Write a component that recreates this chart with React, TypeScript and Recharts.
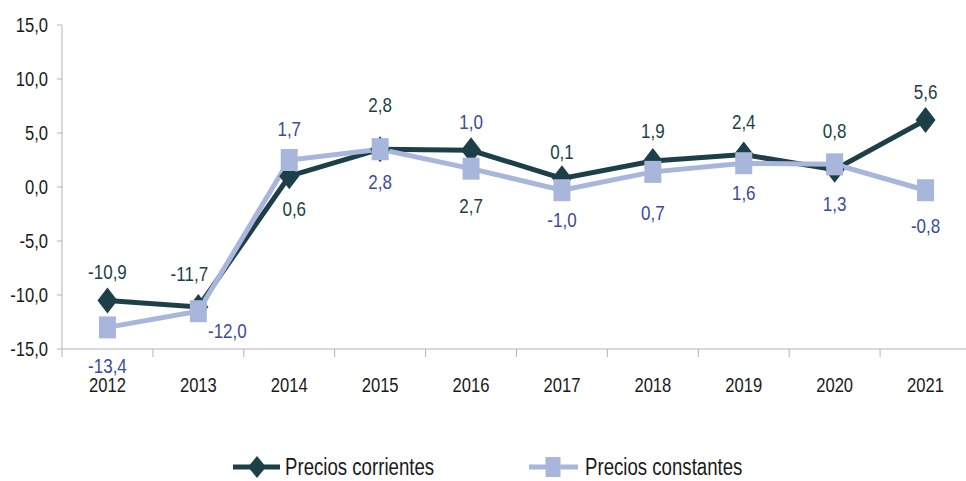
import React from "react";
import { ComposedChart, Line, XAxis, YAxis, Legend, LabelList } from "recharts";

const years = ["2012", "2013", "2014", "2015", "2016", "2017", "2018", "2019", "2020", "2021"];
const corrientes = [-10.5, -11.1, 1.0, 3.5, 3.4, 0.8, 2.4, 3.0, 1.6, 6.2];
const constantes = [-13.0, -11.5, 2.5, 3.5, 1.7, -0.3, 1.4, 2.2, 2.1, -0.3];
const corrientesLabels = ["-10,9", "-11,7", "0,6", "2,8", "2,7", "0,1", "1,9", "2,4", "0,8", "5,6"];
const constantesLabels = ["-13,4", "-12,0", "1,7", "2,8", "1,0", "-1,0", "0,7", "1,6", "1,3", "-0,8"];
const yTicks = [-15, -10, -5, 0, 5, 10, 15];

// label placement next to each point (dx, dy)
const corrPlace = [[0, -29], [-9, -33], [5, 33], [0, -44], [0, 56], [0, -27], [0, -30], [0, -33], [0, -39], [0, -28]];
const constPlace = [[0, 38], [29, 20], [0, -31], [0, 33], [0, -47], [0, 30], [0, 41], [0, 30], [0, 40], [0, 36]];

const data = years.map((year, i) => ({ year, corrientes: corrientes[i], constantes: constantes[i] }));

const DARK = "#1d3f48";
const LIGHT = "#a9b6dc";
const BLUE_TEXT = "#3b4d96";
const AXIS = "#b5b5b5";
const INK = "#1a1a1a";
const FONT = "'Liberation Sans', Arial, sans-serif";

const W = 971;
const H = 481;
const Y_W = 62;
const BAND = (W - Y_W) / years.length;

const fmt = (v: number) => v.toFixed(1).replace(".", ",");

// reference font is a narrow sans, so squeeze Liberation Sans horizontally
const NarrowText = ({ x, y, anchor = "middle", color = INK, size = 21, sx = 0.79, children }: any) => (
  <text
    transform={`translate(${x},${y}) scale(${sx},1)`}
    x={0}
    y={0}
    textAnchor={anchor}
    dominantBaseline="central"
    fill={color}
    fontSize={size}
    fontFamily={FONT}
  >
    {children}
  </text>
);

const Diamond = ({ cx, cy, w = 20, h = 26 }: any) => (
  <polygon
    points={`${cx},${cy - h / 2} ${cx + w / 2},${cy} ${cx},${cy + h / 2} ${cx - w / 2},${cy}`}
    fill={DARK}
  />
);

const Square = ({ cx, cy, w = 17, h = 22 }: any) => (
  <rect x={cx - w / 2} y={cy - h / 2} width={w} height={h} fill={LIGHT} />
);

const XTick = ({ x, y, payload, index }: any) => (
  <g>
    <line x1={x - BAND / 2} x2={x - BAND / 2} y1={y} y2={y + 8} stroke={AXIS} />
    {index === years.length - 1 && (
      <line x1={x + BAND / 2} x2={x + BAND / 2} y1={y} y2={y + 8} stroke={AXIS} />
    )}
    <NarrowText x={x} y={y + 36}>{payload.value}</NarrowText>
  </g>
);

const YTick = ({ x, y, payload }: any) => (
  <NarrowText x={x} y={y} anchor="end">{fmt(payload.value)}</NarrowText>
);

const makeLabel = (texts: string[], place: number[][], color: string) => (props: any) => {
  const { x, y, index } = props;
  const [dx, dy] = place[index];
  return (
    <NarrowText x={x + dx} y={y + dy} color={color} size={21} sx={0.81}>
      {texts[index]}
    </NarrowText>
  );
};

const legendText: React.CSSProperties = {
  display: "inline-block",
  transform: "scaleX(0.81)",
  transformOrigin: "left center",
  whiteSpace: "nowrap",
};

const LegendContent = () => (
  <div style={{ display: "flex", alignItems: "center", paddingLeft: 232, fontFamily: FONT, fontSize: 23, color: INK }}>
    <div style={{ display: "flex", alignItems: "center", width: 296 }}>
      <svg width={50} height={30}>
        <line x1={1} x2={48} y1={15} y2={15} stroke={DARK} strokeWidth={5} />
        <Diamond cx={25} cy={15} w={18} h={22} />
      </svg>
      <span style={{ ...legendText, marginLeft: 3 }}>Precios corrientes</span>
    </div>
    <div style={{ display: "flex", alignItems: "center" }}>
      <svg width={52} height={30}>
        <line x1={1} x2={50} y1={15} y2={15} stroke={LIGHT} strokeWidth={5} />
        <Square cx={25} cy={15} w={15} h={20} />
      </svg>
      <span style={{ ...legendText, marginLeft: 5 }}>Precios constantes</span>
    </div>
  </div>
);

export default function App() {
  return (
    <div style={{ width: 966, height: H, overflow: "hidden", background: "#fff" }}>
      <style>{`body{margin:0}`}</style>
      <ComposedChart width={W} height={H} data={data} margin={{ top: 25, right: 0, bottom: 0, left: 0 }}>
        <XAxis
          dataKey="year"
          scale="band"
          height={132}
          axisLine={{ stroke: AXIS }}
          tickLine={false}
          tickSize={0}
          tickMargin={0}
          interval={0}
          tick={<XTick />}
        />
        <YAxis
          width={Y_W}
          domain={[-15, 15]}
          ticks={yTicks}
          interval={0}
          axisLine={{ stroke: AXIS }}
          tickLine={{ stroke: AXIS }}
          tickSize={5}
          tickMargin={9}
          tick={<YTick />}
        />
        <Legend
          verticalAlign="middle"
          align="center"
          content={<LegendContent />}
          wrapperStyle={{ top: 452, left: 0, width: 966 }}
        />
        <Line
          dataKey="corrientes"
          stroke={DARK}
          strokeWidth={5}
          isAnimationActive={false}
          activeDot={false}
          dot={(p: any) => <Diamond key={`d-${p.index}`} cx={p.cx} cy={p.cy} />}
        >
          <LabelList dataKey="corrientes" content={makeLabel(corrientesLabels, corrPlace, DARK)} />
        </Line>
        <Line
          dataKey="constantes"
          stroke={LIGHT}
          strokeWidth={5}
          isAnimationActive={false}
          activeDot={false}
          dot={(p: any) => <Square key={`s-${p.index}`} cx={p.cx} cy={p.cy} />}
        >
          <LabelList dataKey="constantes" content={makeLabel(constantesLabels, constPlace, BLUE_TEXT)} />
        </Line>
      </ComposedChart>
    </div>
  );
}
